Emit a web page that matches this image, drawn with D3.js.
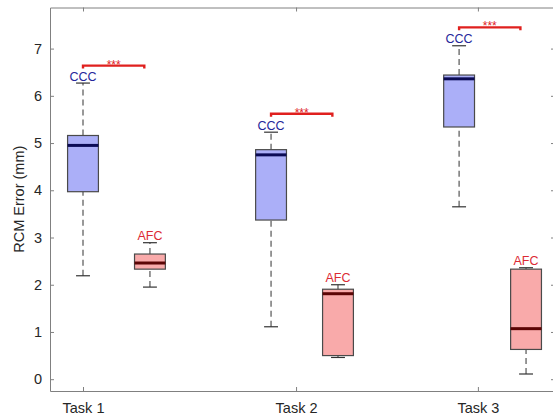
<!DOCTYPE html>
<html>
<head>
<meta charset="utf-8">
<script src="https://cdn.jsdelivr.net/npm/d3@7"></script>
<style>
  html, body { margin: 0; padding: 0; background: #fff; }
  svg { display: block; font-family: "Liberation Sans", Arial, sans-serif; }
</style>
</head>
<body>
<svg id="chart" width="553" height="416"></svg>
<script>
// Task categories and where their labels sit on the x axis
const tasks = ["Task 1", "Task 2", "Task 3"];
const taskTickPos = [1, 2.133, 3.1];

// Box positions for each group (x units)
const cccPos = [1, 2, 3];
const afcPos = [1.356, 2.356, 3.356];

// CCC box statistics (mm)
const cccWhiskerLow  = [2.19, 1.11, 3.65];
const cccQ1          = [3.97, 3.37, 5.34];
const cccMedian      = [4.95, 4.75, 6.36];
const cccQ3          = [5.16, 4.86, 6.44];
const cccWhiskerHigh = [6.27, 5.23, 7.06];

// AFC box statistics (mm)
const afcWhiskerLow  = [1.95, 0.46, 0.11];
const afcQ1          = [2.33, 0.50, 0.63];
const afcMedian      = [2.46, 1.81, 1.07];
const afcQ3          = [2.65, 1.905, 2.33];
const afcWhiskerHigh = [2.89, 2.00, 2.36];

// Significance brackets between CCC and AFC for each task
const sigLevel = [6.64, 5.62, 7.45];
const sigLabel = ["***", "***", "***"];

const yTicks = [0, 1, 2, 3, 4, 5, 6, 7];

const svg = d3.select("#chart");
const plotLeft = 50, plotRight = 555, plotTop = 7.5, plotBottom = 391;

const x = d3.scaleLinear().domain([0.8245, 3.51]).range([plotLeft, plotRight]);
const y = d3.scaleLinear().domain([-0.25, 7.87]).range([plotBottom, plotTop]);

const axisColor = "#808080";
const textColor = "#262626";
const boxHalf = 0.082;   // half box width, x units
const capHalf = 0.037;   // half whisker-cap width, x units

// Axes: boxed frame with inward ticks
const gLeft = svg.append("g").attr("transform", `translate(${plotLeft},0)`)
  .call(d3.axisLeft(y).tickValues(yTicks).tickSizeInner(-4).tickSizeOuter(0).tickPadding(8));
const gRight = svg.append("g").attr("transform", `translate(${plotRight},0)`)
  .call(d3.axisRight(y).tickValues(yTicks).tickSizeInner(-4).tickSizeOuter(0).tickFormat(""));
const gBottom = svg.append("g").attr("transform", `translate(0,${plotBottom})`)
  .call(d3.axisBottom(x).tickValues(taskTickPos).tickSizeInner(-4).tickSizeOuter(0)
    .tickPadding(12).tickFormat((d, i) => tasks[i]));
const gTop = svg.append("g").attr("transform", `translate(0,${plotTop})`)
  .call(d3.axisTop(x).tickValues(taskTickPos).tickSizeInner(-4).tickSizeOuter(0).tickFormat(""));

[gLeft, gRight, gBottom, gTop].forEach(g => {
  g.select(".domain").attr("stroke", axisColor).attr("stroke-width", 1);
  g.selectAll(".tick line").attr("stroke", axisColor);
  g.selectAll(".tick text").attr("fill", textColor)
    .style("font-family", '"Liberation Sans", Arial, sans-serif');
});
gLeft.selectAll(".tick text").style("font-size", "14.5px");
gBottom.selectAll(".tick text").style("font-size", "14.5px");

// Y axis title
svg.append("text")
  .attr("transform", `translate(24,${(plotTop + plotBottom) / 2}) rotate(-90)`)
  .attr("text-anchor", "middle")
  .attr("fill", textColor)
  .style("font-size", "14.5px")
  .text("RCM Error (mm)");

function drawBoxes(name, pos, lo, q1, med, q3, hi, fill, medColor, labelColor) {
  const g = svg.append("g").attr("class", "box-" + name);
  pos.forEach((p, i) => {
    // dashed whiskers
    [[q3[i], hi[i]], [lo[i], q1[i]]].forEach(([a, b]) => {
      g.append("line")
        .attr("x1", x(p)).attr("x2", x(p))
        .attr("y1", y(a)).attr("y2", y(b))
        .attr("stroke", "#555").attr("stroke-width", 1.2)
        .attr("stroke-dasharray", "6,4");
    });
    // whisker caps
    [lo[i], hi[i]].forEach(v => {
      g.append("line")
        .attr("x1", x(p - capHalf)).attr("x2", x(p + capHalf))
        .attr("y1", y(v)).attr("y2", y(v))
        .attr("stroke", "#333").attr("stroke-width", 1.2);
    });
    // box
    g.append("rect")
      .attr("x", x(p - boxHalf)).attr("width", x(p + boxHalf) - x(p - boxHalf))
      .attr("y", y(q3[i])).attr("height", y(q1[i]) - y(q3[i]))
      .attr("fill", fill).attr("stroke", "#4a4a4a").attr("stroke-width", 1.2);
    // median
    g.append("line")
      .attr("x1", x(p - boxHalf)).attr("x2", x(p + boxHalf))
      .attr("y1", y(med[i])).attr("y2", y(med[i]))
      .attr("stroke", medColor).attr("stroke-width", 3);
    // group label above the top whisker
    g.append("text")
      .attr("x", x(p)).attr("y", y(hi[i]) - 2.5)
      .attr("text-anchor", "middle")
      .attr("fill", labelColor)
      .style("font-size", "12.5px")
      .text(name);
  });
}

drawBoxes("CCC", cccPos, cccWhiskerLow, cccQ1, cccMedian, cccQ3, cccWhiskerHigh,
  "#abaff8", "#0b0b55", "#26269a");
drawBoxes("AFC", afcPos, afcWhiskerLow, afcQ1, afcMedian, afcQ3, afcWhiskerHigh,
  "#f9aaaa", "#5c0505", "#dc2a35");

// Significance brackets
const sig = svg.append("g").attr("class", "sig");
cccPos.forEach((p, i) => {
  const x0 = x(p), x1 = x(afcPos[i] - 0.03), yy = y(sigLevel[i]);
  sig.append("path")
    .attr("d", `M${x0},${yy + 3}V${yy}H${x1}V${yy + 3}`)
    .attr("fill", "none").attr("stroke", "#e0201e").attr("stroke-width", 2.4);
  sig.append("text")
    .attr("x", (x0 + x1) / 2).attr("y", yy + 3)
    .attr("text-anchor", "middle")
    .attr("fill", "#e0201e")
    .style("font-size", "12px")
    .text(sigLabel[i]);
});
</script>
</body>
</html>
